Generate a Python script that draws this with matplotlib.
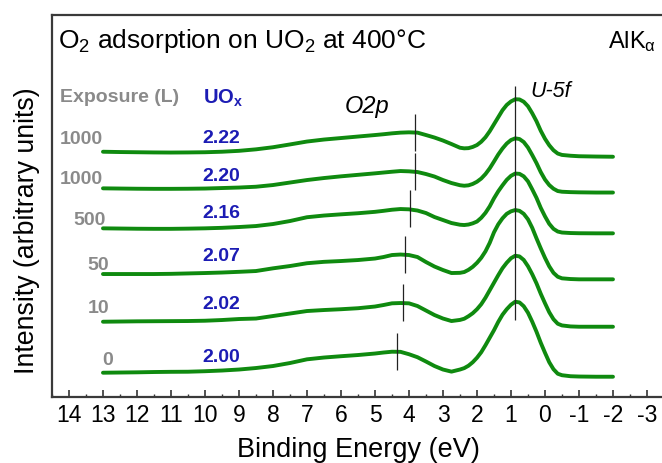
import matplotlib
matplotlib.use('Agg')
import matplotlib.pyplot as plt
import numpy as np

plt.rcParams['font.family'] = ['Liberation Sans', 'DejaVu Sans']
plt.rcParams['mathtext.fontset'] = 'custom'
plt.rcParams['mathtext.rm'] = 'Liberation Sans'
plt.rcParams['mathtext.it'] = 'Liberation Sans:italic'
plt.rcParams['mathtext.bf'] = 'Liberation Sans:bold'
plt.rcParams['axes.unicode_minus'] = False

# binding energy grid (eV): coarse on the flat tail, finer over the O2p / U-5f region
energy = [13, 12.5, 12, 11.5, 11, 10.5, 10, 9.5, 9, 8.5, 8, 7.5, 7, 6.5, 6, 5.5, 5,
          4.75, 4.5, 4.25, 4, 3.75, 3.5, 3.25, 3, 2.75,
          2.5, 2.375, 2.25, 2.125, 2, 1.875, 1.75, 1.625, 1.5, 1.375, 1.25, 1.125,
          1, 0.875, 0.75, 0.625, 0.5, 0.375, 0.25, 0.125, 0, -0.125, -0.25, -0.375, -0.5,
          -0.75, -1, -1.5, -2]

# spectra above their own baseline, top (1000 L, UO2.22) to bottom (clean UO2)
spec_1000a = [5.0, 4.7, 4.5, 4.3, 4.2, 4.3, 4.5, 5.0, 5.9, 7.4, 9.5, 12.3, 15.2, 17.2, 18.7, 20.2, 21.7,
              22.5, 23.4, 24.1, 24.4, 24.1, 21.7, 19.2, 16.2, 12.7,
              9.0, 8.4, 8.6, 9.8, 11.7, 15.0, 19.5, 25.5, 32.5, 39.5, 46.5, 51.8,
              55.3, 57.5, 57.3, 55.0, 50.5, 43.5, 35.5, 26.0, 18.0, 11.5, 6.5, 3.2, 1.8,
              1.0, 0.5, 0.2, 0.0]
spec_1000b = [4.2, 4.0, 3.8, 3.7, 3.7, 3.8, 4.0, 4.5, 5.0, 5.8, 7.5, 10.0, 12.5, 14.5, 16.2, 17.7, 19.2,
              20.0, 20.8, 21.5, 21.2, 20.5, 18.5, 16.0, 12.5, 9.5,
              7.3, 6.8, 7.2, 8.6, 10.8, 14.0, 18.5, 24.2, 31.0, 38.0, 44.0, 49.0,
              52.5, 54.2, 53.5, 50.5, 45.0, 37.5, 29.5, 20.5, 13.0, 7.5, 3.8, 1.5, 0.8,
              0.4, 0.2, 0.0, 0.0]
spec_500 = [5.0, 4.8, 4.6, 4.5, 4.5, 4.7, 5.0, 5.5, 6.3, 7.3, 9.3, 12.3, 16.1, 17.8, 19.0, 20.1, 21.5,
            22.5, 23.6, 24.3, 24.0, 22.8, 20.3, 16.3, 13.3, 10.3,
            8.6, 8.3, 8.8, 10.0, 11.8, 15.5, 20.5, 27.0, 35.0, 42.0, 48.0, 53.5,
            57.5, 59.8, 59.5, 57.0, 52.0, 44.0, 35.5, 25.5, 17.0, 9.5, 4.5, 1.8, 0.8,
            0.3, 0.1, 0.0, 0.0]
spec_50 = [5.3, 5.3, 5.3, 5.3, 5.5, 5.9, 6.3, 6.8, 7.5, 8.3, 11.0, 13.3, 16.1, 17.5, 18.3, 19.3, 20.8,
           22.3, 24.3, 24.8, 24.3, 22.3, 17.3, 12.8, 9.3, 6.3,
           6.5, 7.3, 9.5, 12.5, 16.5, 21.5, 28.0, 36.5, 47.0, 55.0, 61.0, 65.5,
           68.0, 69.3, 68.5, 65.5, 60.0, 51.5, 41.0, 31.0, 21.5, 13.0, 6.5, 2.6, 1.0,
           0.3, 0.0, 0.0, 0.0]
spec_10 = [5.0, 5.2, 5.4, 5.5, 5.6, 5.7, 6.0, 6.7, 7.7, 8.2, 10.7, 13.2, 15.7, 16.7, 17.5, 18.5, 20.2,
           21.7, 23.4, 23.7, 23.4, 20.7, 16.2, 11.7, 8.2, 5.7,
           6.8, 8.0, 10.5, 13.5, 17.5, 22.5, 29.0, 36.5, 44.0, 51.5, 58.5, 64.0,
           68.5, 71.0, 70.3, 66.8, 60.5, 52.5, 43.4, 33.0, 23.5, 14.5, 7.5, 3.0, 1.3,
           0.3, 0.0, 0.0, 0.0]
spec_0 = [4.0, 4.2, 4.4, 4.7, 4.9, 5.0, 5.5, 6.2, 7.2, 8.7, 10.7, 13.7, 17.4, 19.2, 20.5, 21.7, 23.2,
          24.2, 25.0, 24.9, 22.5, 19.5, 15.2, 10.7, 7.2, 5.1,
          7.2, 8.6, 11.0, 14.5, 19.0, 24.5, 31.5, 39.0, 46.5, 54.8, 62.0, 67.5,
          72.0, 75.0, 74.3, 70.5, 64.0, 55.0, 45.0, 34.0, 24.0, 14.5, 7.5, 3.0, 1.5,
          0.5, 0.2, 0.0, 0.0]

baseline_offsets = [240.3, 204.5, 163.7, 117.7, 70.3, 20.3]
exposure_labels = ['1000', '1000', '500', '50', '10', '0']
uox_labels = ['2.22', '2.20', '2.16', '2.07', '2.02', '2.00']

# O2p maximum of each spectrum and the common U-5f peak position (eV)
o2p_positions = [3.82, 3.82, 3.97, 4.13, 4.19, 4.34]
u5f_position = 0.88

spectra = [spec_1000a, spec_1000b, spec_500, spec_50, spec_10, spec_0]

green = '#0f8a0f'
grey = '#8a8a8a'
blue = '#1c1cb4'

fig = plt.figure(figsize=(6.62, 4.63), dpi=100)
ax = fig.add_axes([0.0785, 0.1425, 0.9245, 0.825])

for spec, offset in zip(spectra, baseline_offsets):
    ax.plot(energy, np.array(spec) + offset, color=green, lw=2.8,
            solid_capstyle='round', solid_joinstyle='round')

# short markers at the O2p maxima
e_arr = np.array(energy)[::-1]
for spec, offset, pos in zip(spectra, baseline_offsets, o2p_positions):
    val = np.interp(pos, e_arr, (np.array(spec) + offset)[::-1])
    ax.vlines(pos, val - 18, val + 19, color='#222222', lw=0.9, zorder=3)

ax.vlines(u5f_position, 77, 311, color='#222222', lw=0.9, zorder=3)

# exposure and stoichiometry labels
exp_x = [13.0, 13.0, 12.91, 12.82, 12.82, 12.71]
exp_y = [257.7, 218.0, 177.0, 132.0, 88.7, 37.0]
uox_y = [258.7, 220.3, 183.7, 140.3, 93.0, 39.7]
for lab, x, y in zip(exposure_labels, exp_x, exp_y):
    ax.text(x, y, lab, color=grey, fontsize=14, fontweight='bold', ha='right', va='center')
for lab, y in zip(uox_labels, uox_y):
    ax.text(9.53, y, lab, color=blue, fontsize=14, fontweight='bold', ha='center', va='center')

ax.text(14.26, 300, 'Exposure (L)', color=grey, fontsize=14, fontweight='bold', ha='left', va='center')
ax.text(10.06, 299, r'$\mathbf{UO_x}$', color=blue, fontsize=14.5, ha='left', va='center')

ax.text(5.22, 284, 'O2p', fontsize=17, style='italic', ha='center', va='baseline')
ax.text(0.44, 300, 'U-5f', fontsize=15.5, style='italic', ha='left', va='baseline')

ax.text(14.32, 349, r'$\mathregular{O_2}$ adsorption on $\mathregular{UO_2}$ at 400°C',
        fontsize=19, ha='left', va='baseline')
ax.text(-3.26, 349, r'$\mathregular{AlK_{\alpha}}$', fontsize=17, ha='right', va='baseline')

ax.set_xlim(14.5, -3.5)
ax.set_ylim(0, 382)
ax.set_xticks(range(14, -4, -1))
ax.set_xticks(np.arange(14.5, -3.6, -0.5), minor=True)
ax.set_yticks([])
ax.tick_params(axis='x', which='major', direction='in', length=5, width=1.2,
               labelsize=16.5, pad=5, color='#333333')
ax.tick_params(axis='x', which='minor', direction='in', length=2.5, width=1.0, color='#333333')

for side in ['left', 'top', 'bottom', 'right']:
    ax.spines[side].set_color('#3a3a3a')
    ax.spines[side].set_linewidth(1.6)

ax.set_xlabel('Binding Energy (eV)', fontsize=19.5, labelpad=7)
ax.set_ylabel('Intensity (arbitrary units)', fontsize=19.3)
ax.yaxis.set_label_coords(-0.02, 0.435)

fig.savefig('out.png', dpi=100)
